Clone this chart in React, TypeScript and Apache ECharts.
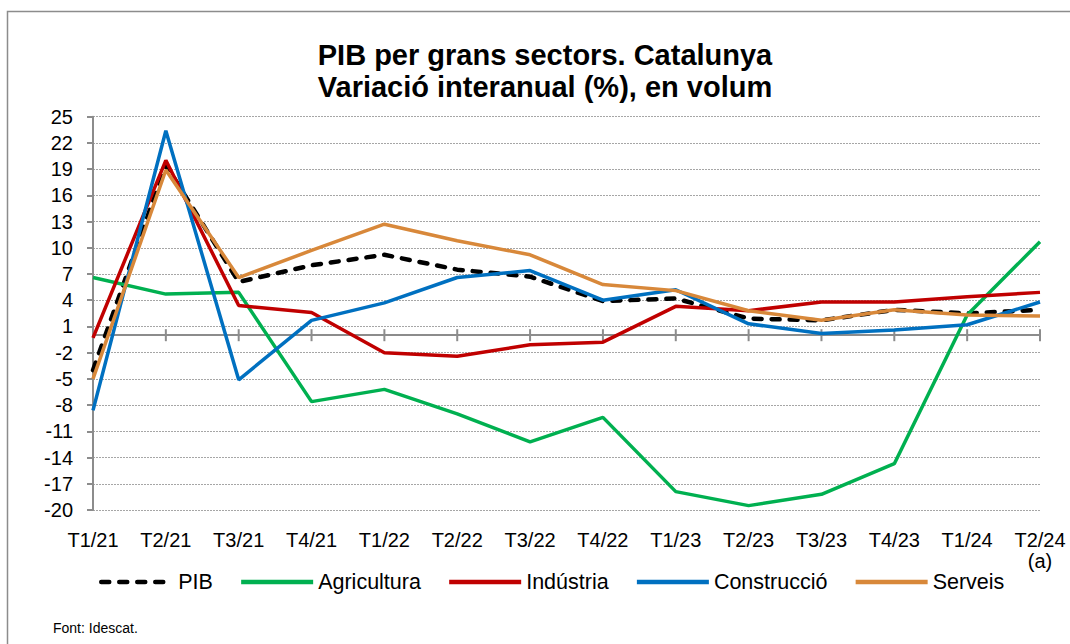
import React, { useEffect, useRef } from "react";
import * as echarts from "echarts";

const categories = ["T1/21", "T2/21", "T3/21", "T4/21", "T1/22", "T2/22", "T3/22", "T4/22", "T1/23", "T2/23", "T3/23", "T4/23", "T1/24", "T2/24"];
const pib = [-4.0, 19.5, 6.1, 8.0, 9.2, 7.5, 6.7, 3.9, 4.2, 1.9, 1.7, 2.9, 2.5, 2.9];
const agricultura = [6.6, 4.7, 4.9, -7.6, -6.2, -9.0, -12.2, -9.4, -17.9, -19.5, -18.2, -14.7, 2.3, 10.7];
const industria = [-0.3, 20.0, 3.4, 2.6, -2.0, -2.4, -1.1, -0.8, 3.3, 2.8, 3.8, 3.8, 4.4, 4.9];
const construccio = [-8.6, 23.4, -5.1, 1.7, 3.7, 6.6, 7.4, 4.0, 5.2, 1.3, 0.2, 0.6, 1.2, 3.8];
const serveis = [-5.0, 18.9, 6.6, 9.7, 12.7, 10.8, 9.2, 5.8, 5.1, 2.8, 1.7, 2.9, 2.3, 2.2];
const yTicks = [-20, -17, -14, -11, -8, -5, -2, 1, 4, 7, 10, 13, 16, 19, 22, 25];

const FONT = "'Liberation Sans', Arial, sans-serif";
const AXIS_GREY = "#8c8c8c";

export default function App() {
  const ref = useRef<HTMLDivElement>(null);
  useEffect(() => {
    if (!ref.current) return;
    const chart = echarts.init(ref.current, undefined, { renderer: "svg" });
    const lineSeries = (name: string, data: number[], color: string, extra: any = {}) => ({
      name,
      type: "line",
      data,
      symbol: "none",
      showSymbol: false,
      xAxisIndex: 0,
      yAxisIndex: 0,
      lineStyle: { color, width: 3.5, ...extra },
      itemStyle: { color },
      emphasis: { disabled: true },
      z: 3,
    });
    const option: any = {
      animation: false,
      backgroundColor: "#fff",
      textStyle: { fontFamily: FONT },
      grid: { left: 93, right: 30, top: 116.7, bottom: 134, containLabel: false },
      xAxis: [
        {
          type: "category",
          data: categories,
          boundaryGap: false,
          position: "bottom",
          axisLine: { show: false, onZero: false },
          axisTick: { show: false },
          splitLine: { show: false },
          axisLabel: { fontSize: 20, color: "#000", margin: 20, fontFamily: FONT, interval: 0 },
        },
        {
          type: "category",
          data: categories,
          boundaryGap: false,
          position: "bottom",
          axisLine: { show: true, onZero: true, lineStyle: { color: AXIS_GREY, width: 2 } },
          axisTick: { show: false },
          axisLabel: { show: false },
          splitLine: { show: false },
        },
      ],
      yAxis: {
        type: "value",
        min: -20,
        max: 25,
        axisLine: { show: true, lineStyle: { color: AXIS_GREY, width: 2 } },
        axisTick: { show: true, customValues: yTicks, length: 6, lineStyle: { color: AXIS_GREY, width: 2 } },
        axisLabel: { customValues: yTicks, fontSize: 20, color: "#000", margin: 20, fontFamily: FONT },
        splitLine: { show: true, lineStyle: { color: "#a6a6a6", type: [2, 1], width: 1 } },
      },
      legend: {
        left: 94,
        top: 566,
        itemWidth: 72,
        itemHeight: 4,
        itemGap: 26,
        itemStyle: { opacity: 0 },
        lineStyle: { width: 4.5 },
        textStyle: { fontSize: 21.5, color: "#000", fontFamily: FONT },
        data: ["PIB", "Agricultura", "Indústria", "Construcció", "Serveis"],
        selectedMode: false,
      },
      graphic: [
        { type: "rect", shape: { x: 7.5, y: 11.5, width: 1200, height: 800 }, style: { fill: "none", stroke: "#8c8c8c", lineWidth: 1.5 }, silent: true, z: -1 },
        { type: "text", x: 545, y: 55, style: { text: "PIB per grans sectors. Catalunya", font: `bold 29px ${FONT}`, fill: "#000", align: "center", verticalAlign: "middle" } },
        { type: "text", x: 545, y: 87, style: { text: "Variació interanual (%), en volum", font: `bold 29px ${FONT}`, fill: "#000", align: "center", verticalAlign: "middle" } },
        { type: "text", x: 1040, y: 561, style: { text: "(a)", font: `20px ${FONT}`, fill: "#000", align: "center", verticalAlign: "middle" } },
        { type: "text", x: 53, y: 628, style: { text: "Font: Idescat.", font: `14px ${FONT}`, fill: "#000", align: "left", verticalAlign: "middle" } },
      ],
      series: [
        {
          name: "ticks",
          type: "custom",
          xAxisIndex: 1,
          yAxisIndex: 0,
          silent: true,
          z: 2,
          data: categories.map((c) => [c, 0]),
          encode: { x: 0, y: 1 },
          renderItem: (params: any, api: any) => {
            const p = api.coord([api.value(0), 0]);
            return {
              type: "line",
              shape: { x1: p[0], y1: p[1] - 6, x2: p[0], y2: p[1] + 6 },
              style: { stroke: AXIS_GREY, lineWidth: 2 },
            };
          },
        },
        lineSeries("PIB", pib, "#000000", { width: 4.5, type: [8, 10], cap: "round" }),
        lineSeries("Agricultura", agricultura, "#00B050"),
        lineSeries("Indústria", industria, "#C00000"),
        lineSeries("Construcció", construccio, "#0070C0"),
        lineSeries("Serveis", serveis, "#D8883A"),
      ],
    };
    chart.setOption(option);
    return () => chart.dispose();
  }, []);
  return <div ref={ref} style={{ position: "fixed", left: 0, top: 0, width: 1070, height: 644 }} />;
}
